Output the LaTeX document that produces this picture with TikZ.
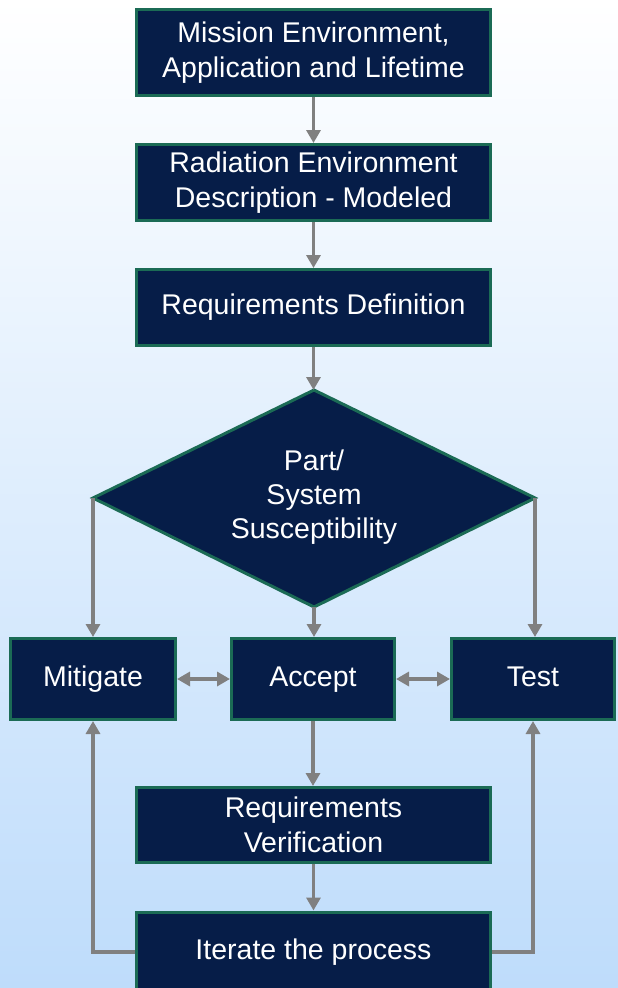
\documentclass[tikz,border=0pt]{standalone}
\usepackage{fontspec}
\setmainfont{Liberation Sans}
\usetikzlibrary{arrows.meta}
\definecolor{navy}{HTML}{061D48}
\definecolor{edgegreen}{HTML}{1B6B55}
\definecolor{arrowgray}{HTML}{808080}
\definecolor{bgtop}{HTML}{FFFFFF}
\definecolor{bgbot}{HTML}{BEDCFB}
\begin{document}
\begin{tikzpicture}[x=1pt,y=-1pt,
  flowbox/.style={draw=edgegreen, fill=navy, line width=3pt, text=white, inner sep=0pt,
    align=center, font=\fontsize{28.5}{35}\selectfont},
  oneline/.style={text height=20pt, text depth=6pt},
  flowline/.style={draw=arrowgray, line width=3.2pt, -{Triangle[length=13pt,width=14pt]}},
  flowline2/.style={draw=arrowgray, line width=3.2pt, {Triangle[length=13pt,width=14pt]}-{Triangle[length=13pt,width=14pt]}}
]
\useasboundingbox (0,0) rectangle (618,988);
\shade[top color=bgtop, bottom color=bgbot] (0,0) rectangle (618,988);

\node[flowbox, minimum width=354pt, minimum height=86pt] (b1) at (313.5,52.5) {Mission Environment,\\Application and Lifetime};
\node[flowbox, minimum width=354pt, minimum height=76pt] (b2) at (313.5,182.5) {Radiation Environment\\Description - Modeled};
\node[flowbox, oneline, minimum width=354pt, minimum height=76pt] (b3) at (313.5,307.5) {Requirements Definition};

\coordinate (dt) at (314,390);
\coordinate (dr) at (535,498);
\coordinate (db) at (314,607);
\coordinate (dl) at (93,498);
\draw[draw=edgegreen, fill=navy, line width=3pt, line join=miter] (dt) -- (dr) -- (db) -- (dl) -- cycle;
\node[text=white, align=center, font=\fontsize{28.5}{34}\selectfont] (dtext) at (314,497) {Part/\\System\\Susceptibility};

\node[flowbox, oneline, minimum width=165pt, minimum height=81pt] (mit) at (93,679) {Mitigate};
\node[flowbox, oneline, minimum width=163pt, minimum height=81pt] (acc) at (313,679) {Accept};
\node[flowbox, oneline, minimum width=163pt, minimum height=81pt] (tst) at (533,679) {Test};

\node[flowbox, minimum width=354pt, minimum height=75pt] (rv) at (313.5,825) {Requirements\\Verification};
\node[flowbox, oneline, minimum width=354pt, minimum height=80pt] (it) at (313.5,952) {Iterate the process};

\draw[flowline] (b1.south) -- (b2.north);
\draw[flowline] (b2.south) -- (b3.north);
\draw[flowline] (b3.south) -- (b3.south |- dt);
\draw[flowline] (dl) -- (dl |- mit.north);
\draw[flowline] (dr) -- (dr |- tst.north);
\draw[flowline] (db) -- (db |- acc.north);
\draw[flowline2] (mit.east) -- (acc.west);
\draw[flowline2] (acc.east) -- (tst.west);
\draw[flowline] (acc.south) -- (acc.south |- rv.north);
\draw[flowline] (rv.south) -- (it.north);
\draw[flowline] (it.west) -| (mit.south);
\draw[flowline] (it.east) -| (tst.south);
\end{tikzpicture}
\end{document}
